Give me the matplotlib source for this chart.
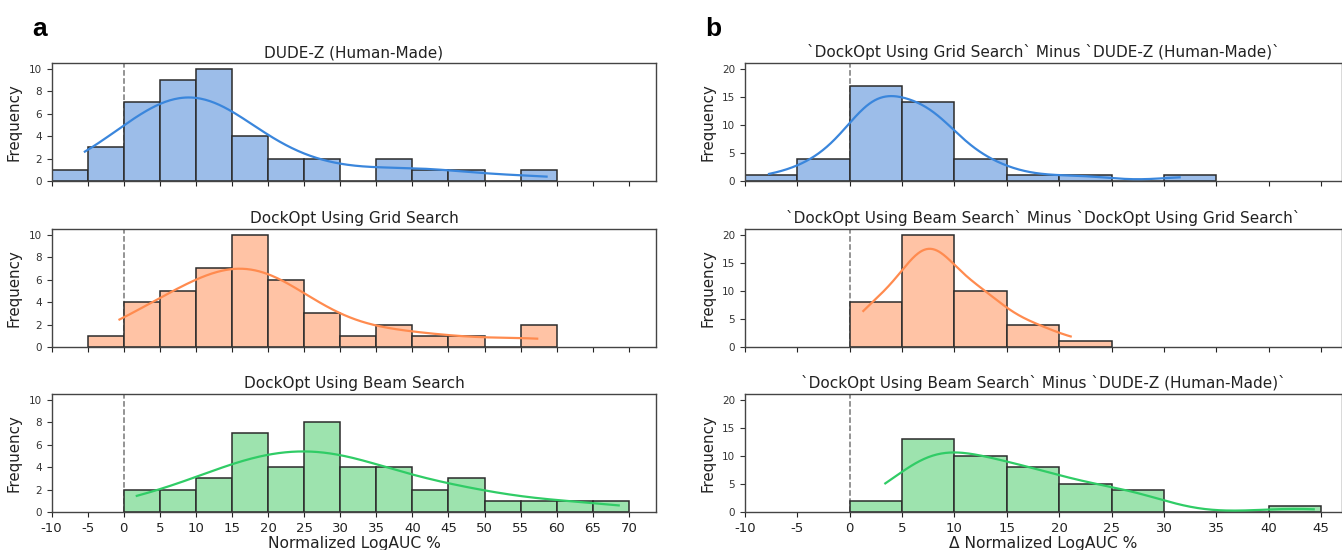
import numpy as np
import matplotlib
matplotlib.use('Agg')
import matplotlib.pyplot as plt
from matplotlib.ticker import MultipleLocator

plt.rcParams['font.family'] = ['DejaVu Sans']
plt.rcParams['axes.unicode_minus'] = False

# Histogram data (bin width 5, counts)
bin_width = 5

left_titles = ['DUDE-Z (Human-Made)', 'DockOpt Using Grid Search', 'DockOpt Using Beam Search']
left_start = [-10, -5, 0]
left_counts = [
    [1, 3, 7, 9, 10, 4, 2, 2, 0, 2, 1, 1, 0, 1],
    [1, 4, 5, 7, 10, 6, 3, 1, 2, 1, 1, 0, 2],
    [2, 2, 3, 7, 4, 8, 4, 4, 2, 3, 1, 1, 1, 1],
]
left_kde_range = [(-5.4, 58.6), (-0.6, 57.3), (1.8, 68.6)]
left_bw_adjust = [1.0, 1.0, 1.0]

right_titles = ['`DockOpt Using Grid Search` Minus `DUDE-Z (Human-Made)`',
                '`DockOpt Using Beam Search` Minus `DockOpt Using Grid Search`',
                '`DockOpt Using Beam Search` Minus `DUDE-Z (Human-Made)`']
right_start = [-10, 0, 0]
right_counts = [
    [1, 4, 17, 14, 4, 1, 1, 0, 1],
    [8, 20, 10, 4, 1],
    [2, 13, 10, 8, 5, 4, 0, 0, 1],
]
right_kde_range = [(-7.7, 31.5), (1.3, 21.1), (3.4, 44.3)]
right_bw_adjust = [0.9, 1.15, 0.95]

fill_colors = ['#9cbde9', '#ffc3a5', '#9de3ae']
line_colors = ['#3a86dc', '#ff8b4f', '#30cc66']

fig = plt.figure(figsize=(13.42, 5.5), dpi=100)

row_bottoms = [0.6709, 0.3691, 0.0691]
row_height = 0.2145


def kde_curve(start, counts, lo, hi, adjust):
    centers = start + bin_width * (np.arange(len(counts)) + 0.5)
    pts = np.repeat(centers, counts)
    n = len(pts)
    bw = pts.std(ddof=1) * n ** (-1 / 5) * adjust
    xs = np.linspace(lo, hi, 300)
    dens = np.exp(-0.5 * ((xs[:, None] - pts[None, :]) / bw) ** 2).sum(axis=1)
    dens = dens / (n * bw * np.sqrt(2 * np.pi))
    return xs, dens * n * bin_width


def draw_panel(rect, title, start, counts, kde_range, adjust, i, xlim, ylim, ymajor, last):
    ax = fig.add_axes(rect)
    edges = start + bin_width * np.arange(len(counts))
    ax.bar(edges, counts, width=bin_width, align='edge', color=fill_colors[i],
           edgecolor='#2b2b2b', linewidth=1.1, zorder=2)
    xs, ys = kde_curve(start, counts, kde_range[0], kde_range[1], adjust)
    ax.plot(xs, ys, color=line_colors[i], linewidth=1.6, zorder=3)
    ax.axvline(0, color='#777777', linestyle='--', linewidth=1.1, zorder=1)
    ax.set_xlim(*xlim)
    ax.set_ylim(*ylim)
    ax.xaxis.set_major_locator(MultipleLocator(5))
    ax.yaxis.set_major_locator(MultipleLocator(ymajor))
    ax.tick_params(axis='y', labelsize=7.5, colors='#333333', length=3.5)
    ax.tick_params(axis='x', labelsize=9.5, colors='#222222', length=3.5)
    for s in ax.spines.values():
        s.set_color('#444444')
        s.set_linewidth(1.0)
    ax.set_title(title, fontsize=11, pad=4, color='#222222')
    ax.set_ylabel('Frequency', fontsize=10.8, color='#222222', labelpad=5)
    if not last:
        ax.tick_params(axis='x', labelbottom=False)
    return ax


for i in range(3):
    last = i == 2
    ax = draw_panel([0.0385, row_bottoms[i], 0.4505, row_height], left_titles[i],
                    left_start[i], left_counts[i], left_kde_range[i], left_bw_adjust[i], i,
                    (-10, 73.8), (0, 10.5), 2, last)
    if last:
        ax.set_xlabel('Normalized LogAUC %', fontsize=11.2, color='#222222', labelpad=1)

    ax = draw_panel([0.5551, row_bottoms[i], 0.4449, row_height], right_titles[i],
                    right_start[i], right_counts[i], right_kde_range[i], right_bw_adjust[i], i,
                    (-10, 47), (0, 21), 5, last)
    if last:
        ax.set_xlabel('Δ Normalized LogAUC %', fontsize=11.2, color='#222222', labelpad=1)

fig.text(32 / 1342, 1 - 36 / 550, 'a', fontsize=19, fontweight='bold',
         family=['Liberation Sans', 'DejaVu Sans'])
fig.text(705 / 1342, 1 - 36 / 550, 'b', fontsize=19, fontweight='bold',
         family=['Liberation Sans', 'DejaVu Sans'])

fig.savefig('out.png', dpi=100)
